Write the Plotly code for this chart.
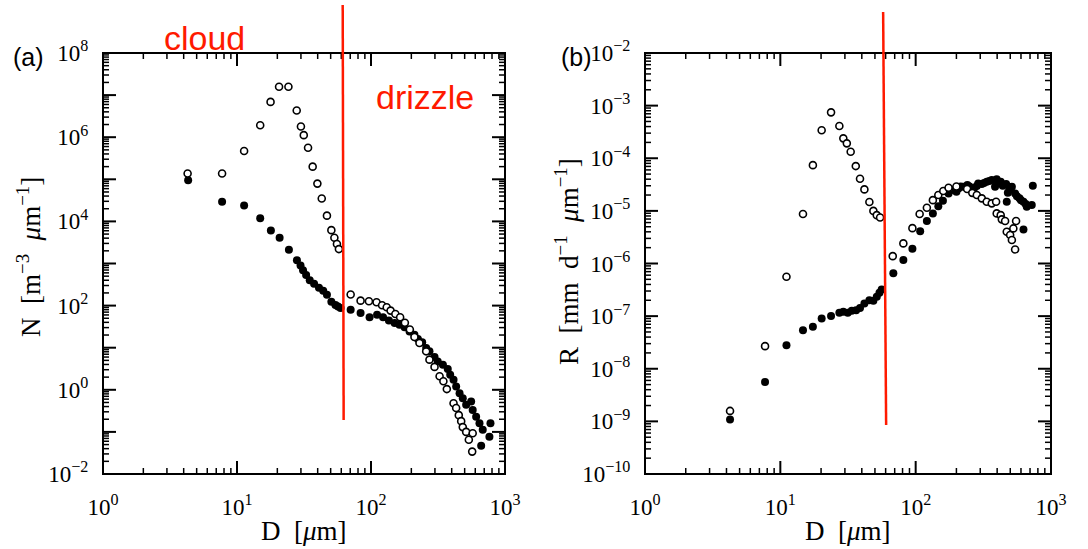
import plotly.graph_objects as go

# ---------------- data ----------------
# panel (a): number distribution N [m^-3 um^-1] vs D [um]
D_a_open = [4.28, 7.74, 11.3, 14.9, 17.8, 20.6, 24.2, 27.9, 30.0, 31.5,
            33.9, 36.7, 39.8, 42.9, 46.9, 50.6, 53.3, 55.7, 57.6, 70.5,
            83.6, 96.5, 110, 121, 131, 140, 152, 165, 179, 195,
            211, 230, 258, 273, 298, 325, 347, 368, 413, 432,
            452, 471, 484, 513, 537, 569, 574]
N_a_open = [1.37e5, 1.37e5, 4.7e5, 1.93e6, 6.9e6, 1.58e7, 1.58e7, 4.3e6, 1.8e6, 1.12e6,
            5.6e5, 2.0e5, 7.9e4, 3.5e4, 1.37e4, 6.2e3, 4.1e3, 2.9e3, 2.2e3, 183,
            131, 127, 120, 102, 91, 76, 63, 53, 39, 27,
            18, 12.9, 8.2, 5.2, 3.5, 2.1, 1.6, 1.04, 0.48, 0.37,
            0.25, 0.18, 0.13, 0.10, 0.065, 0.034, 0.093]

D_a_fill = [4.32, 7.74, 11.3, 14.9, 17.9, 20.8, 24.4, 28.0, 29.8, 31.1,
            32.8, 34.9, 37.6, 40.9, 44.0, 46.9, 50.6, 54.3, 56.7, 59.3,
            70.5, 83.6, 97.6, 111, 123, 136, 150, 163, 178, 194,
            211, 224, 241, 258, 273, 298, 315, 344, 374, 390,
            413, 432, 458, 484, 513, 559, 574, 609, 645, 682,
            779, 765, 664]
N_a_fill = [9.5e4, 2.94e4, 2.4e4, 1.19e4, 6.1e3, 4.1e3, 2.12e3, 1.2e3, 896, 692,
            532, 400, 329, 264, 224, 180, 123, 104, 95, 88,
            80, 67, 53, 61, 53, 44, 38.7, 35.3, 30.4, 24.4,
            20.4, 16.1, 13.4, 9.8, 8.2, 6.0, 4.72, 3.94, 3.11, 2.28,
            1.73, 1.2, 0.83, 0.63, 0.44, 0.53, 0.33, 0.23, 0.161, 0.112,
            0.161, 0.077, 0.047]

# panel (b): rain-rate distribution R [mm d^-1 um^-1] vs D [um]
D_b_open = [4.25, 7.71, 11.1, 14.7, 17.4, 20.2, 23.7, 27.3, 29.2, 31.0,
            33.1, 36.1, 38.8, 41.8, 45.5, 48.7, 51.6, 54.6, 67.7, 81.1,
            94.6, 107, 121, 134, 147, 160, 175, 200, 240, 262,
            283, 308, 335, 365, 393, 397, 425, 433, 458, 471,
            499, 514, 527, 552, 543]
R_b_open = [1.58e-9, 2.69e-8, 5.6e-7, 8.7e-6, 7.4e-5, 3.4e-4, 7.45e-4, 4.1e-4, 2.39e-4, 1.92e-4,
            1.33e-4, 7.1e-5, 4.07e-5, 2.56e-5, 1.47e-5, 1.0e-5, 8.3e-6, 7.5e-6, 1.38e-6, 2.41e-6,
            4.7e-6, 8.7e-6, 1.15e-5, 1.6e-5, 2.0e-5, 2.38e-5, 2.75e-5, 2.9e-5, 2.6e-5, 2.2e-5,
            2.0e-5, 1.73e-5, 1.49e-5, 1.39e-5, 1.49e-5, 8.96e-6, 8.3e-6, 6.9e-6, 6.4e-6, 4.0e-6,
            3.47e-6, 2.79e-6, 4.64e-6, 6.4e-6, 1.85e-6]

D_b_fill = [4.25, 7.71, 11.1, 14.7, 17.4, 20.2, 23.7, 27.3, 29.2, 31.5,
            33.7, 36.3, 38.8, 41.8, 45.5, 48.7, 51.6, 54.0, 56.1, 68.4,
            81.1, 94.6, 108, 121, 134, 147, 159, 175, 190, 207,
            225, 241, 260, 283, 308, 335, 365, 386, 397, 425,
            466, 493, 514, 471, 543, 585, 626, 662, 721, 734,
            626, 200, 215, 250, 270, 290, 320, 350, 410, 440,
            480, 560, 600, 650]
R_b_fill = [1.09e-9, 5.6e-9, 2.8e-8, 5.4e-8, 6.3e-8, 9.0e-8, 1.01e-7, 1.16e-7, 1.21e-7, 1.16e-7,
            1.26e-7, 1.3e-7, 1.42e-7, 1.74e-7, 2.0e-7, 1.95e-7, 2.33e-7, 2.77e-7, 3.22e-7, 6.5e-7,
            1.16e-6, 1.9e-6, 4.1e-6, 6.4e-6, 8.96e-6, 1.23e-5, 1.56e-5, 2.15e-5, 2.48e-5, 2.67e-5,
            2.87e-5, 3.09e-5, 2.56e-5, 2.96e-5, 3.24e-5, 3.58e-5, 3.86e-5, 2.87e-5, 3.97e-5, 3.58e-5,
            3.24e-5, 2.56e-5, 2.87e-5, 1.49e-5, 2.15e-5, 1.73e-5, 1.49e-5, 1.2e-5, 1.29e-5, 3.0e-5,
            4.44e-6, 2.3e-5, 2.9e-5, 2.9e-5, 2.7e-5, 3.3e-5, 3.4e-5, 3.7e-5, 3.4e-5, 3.0e-5,
            2.2e-5, 1.9e-5, 1.6e-5, 1.35e-5]

# cloud / drizzle separation diameter (red line), um
D_split_a = [61.5, 62.5]
D_split_b = [57.5, 60.5]

# tick labels
x_exponents = [0, 1, 2, 3]
x_ticktext = ["10<sup>0</sup>", "10<sup>1</sup>", "10<sup>2</sup>", "10<sup>3</sup>"]
ya_exponents = list(range(-2, 9))
ya_ticktext = ["10<sup>−2</sup>", "", "10<sup>0</sup>", "", "10<sup>2</sup>", "",
               "10<sup>4</sup>", "", "10<sup>6</sup>", "", "10<sup>8</sup>"]
yb_exponents = list(range(-10, -1))
yb_ticktext = ["10<sup>−10</sup>", "10<sup>−9</sup>", "10<sup>−8</sup>", "10<sup>−7</sup>",
               "10<sup>−6</sup>", "10<sup>−5</sup>", "10<sup>−4</sup>", "10<sup>−3</sup>",
               "10<sup>−2</sup>"]

# ---------------- figure ----------------
SERIF = "Liberation Serif"
SANS = "Liberation Sans"
RED = "#ff1a00"
W, H = 1088, 549
MAJOR_LEN, MINOR_LEN = 13, 6

fig = go.Figure()

open_marker = dict(symbol="circle", size=7, color="white",
                   line=dict(color="black", width=1.6))
fill_marker = dict(symbol="circle", size=8, color="black")

fig.add_trace(go.Scatter(x=D_a_fill, y=N_a_fill, mode="markers", marker=fill_marker,
                         xaxis="x", yaxis="y", showlegend=False))
fig.add_trace(go.Scatter(x=D_a_open, y=N_a_open, mode="markers", marker=open_marker,
                         xaxis="x", yaxis="y", showlegend=False))
fig.add_trace(go.Scatter(x=D_b_fill, y=R_b_fill, mode="markers", marker=fill_marker,
                         xaxis="x2", yaxis="y2", showlegend=False))
fig.add_trace(go.Scatter(x=D_b_open, y=R_b_open, mode="markers", marker=open_marker,
                         xaxis="x2", yaxis="y2", showlegend=False))

dom_y = [1 - 474 / H, 1 - 53 / H]
dom_xa = [103 / W, 505 / W]
dom_xb = [645 / W, 1051 / W]

def axis(domain, anchor, rng, exps, text, standoff):
    return dict(type="log", domain=domain, anchor=anchor, range=rng,
                showline=True, linecolor="black", mirror=True, ticks="",
                tickmode="array", tickvals=[10.0 ** e for e in exps], ticktext=text,
                ticklabelstandoff=standoff,
                automargin=False, showgrid=False, zeroline=False,
                tickfont=dict(family=SERIF, size=23, color="black"))

fig.update_layout(
    width=W, height=H, template="none",
    margin=dict(l=0, r=0, t=0, b=0, autoexpand=False),
    xaxis=axis(dom_xa, "y", [0, 3], x_exponents, x_ticktext, 12),
    yaxis=axis(dom_y, "x", [-2, 8], ya_exponents, ya_ticktext, 9),
    xaxis2=axis(dom_xb, "y2", [0, 3], x_exponents, x_ticktext, 12),
    yaxis2=axis(dom_y, "x2", [-10, -2], yb_exponents, yb_ticktext, 9),
)

# ---- inside tick marks on all four sides, positioned through the axis scales ----
def decade_ticks(exps):
    e0, e1 = exps[0], exps[-1]
    majors = [10.0 ** e for e in exps[1:-1]]
    minors = [m * 10.0 ** e for e in range(e0, e1) for m in range(2, 10)]
    return [(v, MAJOR_LEN, 2) for v in majors] + [(v, MINOR_LEN, 1.5) for v in minors]

shapes = []
for xa, ya, xdom, yexps in (("x", "y", dom_xa, ya_exponents), ("x2", "y2", dom_xb, yb_exponents)):
    for v, ln, wd in decade_ticks(x_exponents):
        for y0, y1 in ((dom_y[0], dom_y[0] + ln / H), (dom_y[1], dom_y[1] - ln / H)):
            shapes.append(dict(type="line", xref=xa, yref="paper", x0=v, x1=v, y0=y0, y1=y1,
                               line=dict(color="black", width=wd)))
    for v, ln, wd in decade_ticks(yexps):
        for x0, x1 in ((xdom[0], xdom[0] + ln / W), (xdom[1], xdom[1] - ln / W)):
            shapes.append(dict(type="line", xref="paper", yref=ya, x0=x0, x1=x1, y0=v, y1=v,
                               line=dict(color="black", width=wd)))
    # thicker frame
    shapes.append(dict(type="rect", xref="paper", yref="paper",
                       x0=xdom[0], x1=xdom[1], y0=dom_y[0], y1=dom_y[1],
                       line=dict(color="black", width=2), fillcolor="rgba(0,0,0,0)"))

# red separation lines (extend above the frame, as in the reference)
shapes.append(dict(type="line", xref="x", yref="paper", x0=D_split_a[0], x1=D_split_a[1],
                   y0=1 - 5 / H, y1=1 - 420 / H, line=dict(color=RED, width=2.5)))
shapes.append(dict(type="line", xref="x2", yref="paper", x0=D_split_b[0], x1=D_split_b[1],
                   y0=1 - 12 / H, y1=1 - 425 / H, line=dict(color=RED, width=2.5)))
fig.update_layout(shapes=shapes)

def label(text, px, py, font, angle=0):
    fig.add_annotation(text=text, xref="paper", yref="paper", x=px / W, y=1 - py / H,
                       xanchor="center", yanchor="middle", textangle=angle,
                       showarrow=False, font=font)

# axis titles
tfont = dict(family=SERIF, size=27, color="black")
label("D  [<i>μ</i>m]", 304, 531, tfont)
label("D  [<i>μ</i>m]", 848, 531, tfont)
label("N  [m<sup>−3</sup>  <i>μ</i>m<sup>−1</sup>]", 29, 257, tfont, -90)
label("R  [mm  d<sup>−1</sup>  <i>μ</i>m<sup>−1</sup>]", 567, 262, tfont, -90)

# panel labels
label("cloud", 204, 38, dict(family=SANS, size=34, color=RED))
label("drizzle", 425, 97, dict(family=SANS, size=34, color=RED))
label("(a)", 28, 57, dict(family=SANS, size=25, color="black"))
label("(b)", 576, 57, dict(family=SANS, size=25, color="black"))

fig.write_html("out.html")
